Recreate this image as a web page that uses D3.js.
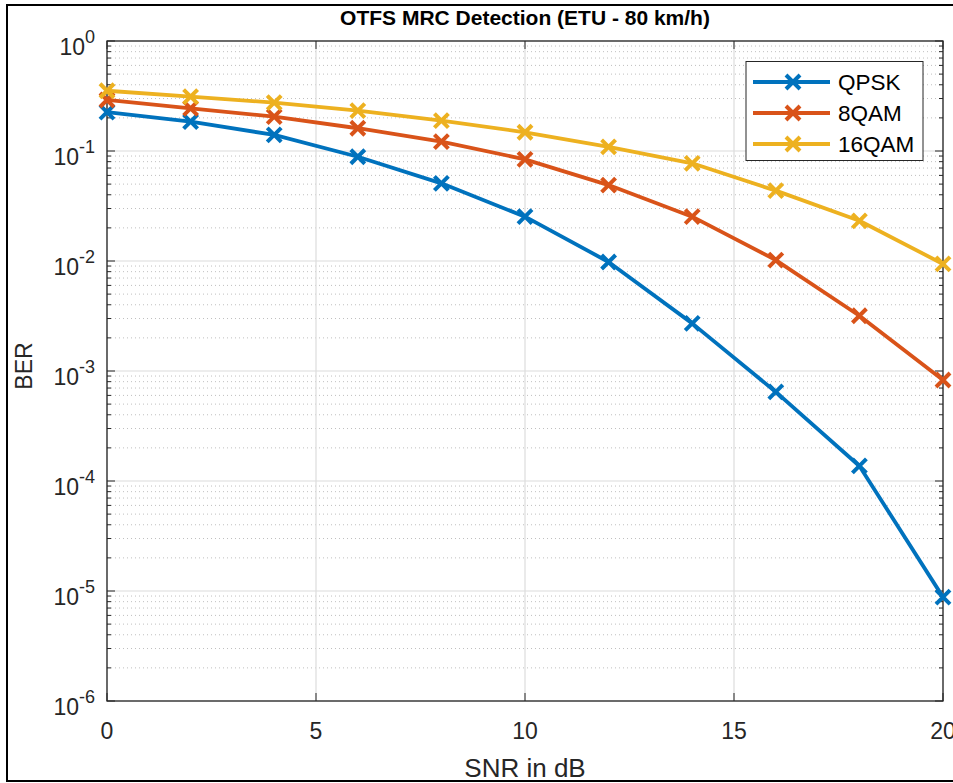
<!DOCTYPE html>
<html><head><meta charset="utf-8">
<script src="https://cdn.jsdelivr.net/npm/d3@7"></script>
<style>body{margin:0;background:#fff;} text{font-family:"Liberation Sans",Arial,sans-serif;}</style>
</head><body>
<svg id="c" width="953" height="783"></svg>
<script>
const snr = [0,2,4,6,8,10,12,14,16,18,20];
const berQPSK = [0.226,0.185,0.14,0.0887,0.0508,0.0253,0.0098,0.00271,0.000645,0.000137,0.0000088];
const ber8QAM = [0.291,0.244,0.205,0.161,0.1215,0.084,0.049,0.0253,0.0102,0.00318,0.000828];
const ber16QAM = [0.353,0.312,0.275,0.233,0.189,0.148,0.109,0.0773,0.0436,0.0232,0.0094];
const seriesNames = ["QPSK","8QAM","16QAM"];
const seriesColors = ["#0072BD","#D95319","#EDB120"];
const xTicks = [0,5,10,15,20];
const yExps = [0,-1,-2,-3,-4,-5,-6];
const titleText = "OTFS MRC Detection (ETU - 80 km/h)";
const xLabel = "SNR in dB", yLabel = "BER";

const svg = d3.select("#c");
const L=107, R=943, T=41, B=701;
const x = d3.scaleLinear().domain([0,20]).range([L,R]);
const y = d3.scaleLog().domain([1e-6,1]).range([B,T]);
const axisCol = "#262626";

// outer border
svg.append("rect").attr("x",7).attr("y",5).attr("width",980).attr("height",776)
  .attr("fill","none").attr("stroke","#000").attr("stroke-width",2);

const g = svg.append("g");
const minorVals = [];
for (let e=-6;e<0;e++) for (let m=2;m<=9;m++) minorVals.push(m*Math.pow(10,e));
g.selectAll(".mg").data(minorVals).enter().append("line")
  .attr("x1",L).attr("x2",R).attr("y1",d=>y(d)).attr("y2",d=>y(d))
  .attr("stroke","#bfbfbf").attr("stroke-width",1).attr("stroke-dasharray","1,3");
g.selectAll(".gy").data(yExps).enter().append("line")
  .attr("x1",L).attr("x2",R).attr("y1",d=>y(Math.pow(10,d))).attr("y2",d=>y(Math.pow(10,d)))
  .attr("stroke","#dcdcdc").attr("stroke-width",1.2);
g.selectAll(".gx").data(xTicks).enter().append("line")
  .attr("y1",T).attr("y2",B).attr("x1",d=>x(d)).attr("x2",d=>x(d))
  .attr("stroke","#dcdcdc").attr("stroke-width",1.2);

const tl = 8;
const ax = svg.append("g");
const mk = (sel)=>sel.attr("stroke",axisCol).attr("stroke-width",1);
xTicks.forEach(v=>{
  mk(ax.append("line").attr("x1",x(v)).attr("x2",x(v)).attr("y1",B).attr("y2",B-tl));
  mk(ax.append("line").attr("x1",x(v)).attr("x2",x(v)).attr("y1",T).attr("y2",T+tl));
});
yExps.forEach(e=>{
  const yy=y(Math.pow(10,e));
  mk(ax.append("line").attr("x1",L).attr("x2",L+tl).attr("y1",yy).attr("y2",yy));
  mk(ax.append("line").attr("x1",R).attr("x2",R-tl).attr("y1",yy).attr("y2",yy));
});
minorVals.forEach(v=>{
  const yy=y(v);
  mk(ax.append("line").attr("x1",L).attr("x2",L+4).attr("y1",yy).attr("y2",yy));
  mk(ax.append("line").attr("x1",R).attr("x2",R-4).attr("y1",yy).attr("y2",yy));
});
ax.append("rect").attr("x",L).attr("y",T).attr("width",R-L).attr("height",B-T)
  .attr("fill","none").attr("stroke",axisCol).attr("stroke-width",1.3);

svg.selectAll(".xl").data(xTicks).enter().append("text")
  .attr("x",d=>x(d)).attr("y",739).attr("text-anchor","middle")
  .attr("font-size",23).attr("fill",axisCol).text(d=>d);
yExps.forEach(e=>{
  const t = svg.append("text").attr("x",95).attr("y",y(Math.pow(10,e))+14)
    .attr("text-anchor","end").attr("font-size",23).attr("fill",axisCol);
  t.append("tspan").text("10");
  t.append("tspan").attr("dy",-12).attr("font-size",18).text(e);
});

svg.append("text").attr("x",(L+R)/2).attr("y",25).attr("text-anchor","middle")
  .attr("font-size",21).attr("font-weight","bold").attr("fill","#000").text(titleText);
svg.append("text").attr("x",(L+R)/2).attr("y",777).attr("text-anchor","middle")
  .attr("font-size",26).attr("fill",axisCol).text(xLabel);
svg.append("text").attr("transform",`translate(32,366) rotate(-90)`)
  .attr("text-anchor","middle").attr("font-size",23).attr("fill",axisCol).text(yLabel);

const allSeries = [berQPSK, ber8QAM, ber16QAM];
const line = d3.line().x((d,i)=>x(snr[i])).y(d=>y(d));
const cross = (sel, cx, cy, col, s=7)=>{
  sel.append("path").attr("d",`M${cx-s},${cy-s}L${cx+s},${cy+s}M${cx-s},${cy+s}L${cx+s},${cy-s}`)
    .attr("stroke",col).attr("stroke-width",4).attr("fill","none");
};
const plot = svg.append("g");
allSeries.forEach((s,k)=>{
  plot.append("path").datum(s).attr("d",line).attr("fill","none")
    .attr("stroke",seriesColors[k]).attr("stroke-width",3.8).attr("stroke-linejoin","round");
  s.forEach((v,i)=>cross(plot, x(snr[i]), y(v), seriesColors[k]));
});

const lg = svg.append("g");
lg.append("rect").attr("x",746).attr("y",61.5).attr("width",177).attr("height",99)
  .attr("fill","#fff").attr("stroke",axisCol).attr("stroke-width",1);
seriesNames.forEach((n,k)=>{
  const yy = 82 + k*31;
  lg.append("line").attr("x1",753).attr("x2",830).attr("y1",yy).attr("y2",yy)
    .attr("stroke",seriesColors[k]).attr("stroke-width",3.8);
  cross(lg, 793, yy, seriesColors[k]);
  lg.append("text").attr("x",838).attr("y",yy+8).attr("font-size",22.5).attr("fill","#000").text(n);
});
</script>
</body></html>
